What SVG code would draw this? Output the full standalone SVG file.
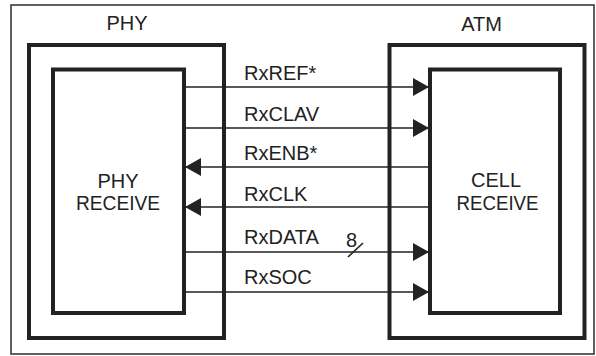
<svg xmlns="http://www.w3.org/2000/svg" width="596" height="356" viewBox="0 0 596 356">
<style>
text{font-family:"Liberation Sans",Arial,sans-serif;font-size:20px;fill:#222}
.c{text-anchor:middle}
.frame{fill:none;stroke:#3a3a3a;stroke-width:1.6}
.box{fill:#fff;stroke:#222;stroke-width:4}
.ln{stroke:#222;stroke-width:1.6;fill:none}
</style>
<defs>
<marker id="ah" viewBox="0 0 16 18" refX="16" refY="9" markerWidth="16" markerHeight="18" markerUnits="userSpaceOnUse" orient="auto">
<path d="M0,0 L16,9 L0,18 z" fill="#222"/>
</marker>
</defs>
<rect width="596" height="356" fill="#fff"/>
<rect class="frame" x="11" y="5" width="583" height="349"/>
<g id="phy">
<rect class="box" x="29" y="45" width="195" height="293"/>
<text class="c" x="127" y="30">PHY</text>
</g>
<g id="atm">
<rect class="box" x="389.5" y="45" width="195" height="293"/>
<text class="c" x="481.5" y="31">ATM</text>
</g>
<g id="phy-receive">
<rect class="box" x="53" y="69.5" width="131" height="243.5"/>
<text class="c" x="118" y="188">PHY</text>
<text class="c" x="118" y="210" textLength="84" lengthAdjust="spacingAndGlyphs">RECEIVE</text>
</g>
<g id="cell-receive">
<rect class="box" x="430" y="69.5" width="130" height="243.5"/>
<text class="c" x="496" y="187">CELL</text>
<text class="c" x="497.5" y="210" textLength="82" lengthAdjust="spacingAndGlyphs">RECEIVE</text>
</g>
<g id="connectors">
<line class="ln" x1="186" y1="87" x2="429" y2="87" marker-end="url(#ah)"/>
<line class="ln" x1="186" y1="128" x2="429" y2="128" marker-end="url(#ah)"/>
<line class="ln" x1="428" y1="167" x2="185" y2="167" marker-end="url(#ah)"/>
<line class="ln" x1="428" y1="207" x2="185" y2="207" marker-end="url(#ah)"/>
<line class="ln" x1="186" y1="252" x2="429" y2="252" marker-end="url(#ah)"/>
<line class="ln" x1="186" y1="292" x2="429" y2="292" marker-end="url(#ah)"/>
<line class="ln" x1="348" y1="257" x2="363" y2="243"/>
<text x="244" y="80">RxREF*</text>
<text x="244" y="121">RxCLAV</text>
<text x="244" y="160">RxENB*</text>
<text x="244" y="201">RxCLK</text>
<text x="244" y="244">RxDATA</text>
<text x="346" y="247">8</text>
<text x="244" y="284">RxSOC</text>
</g>
</svg>
